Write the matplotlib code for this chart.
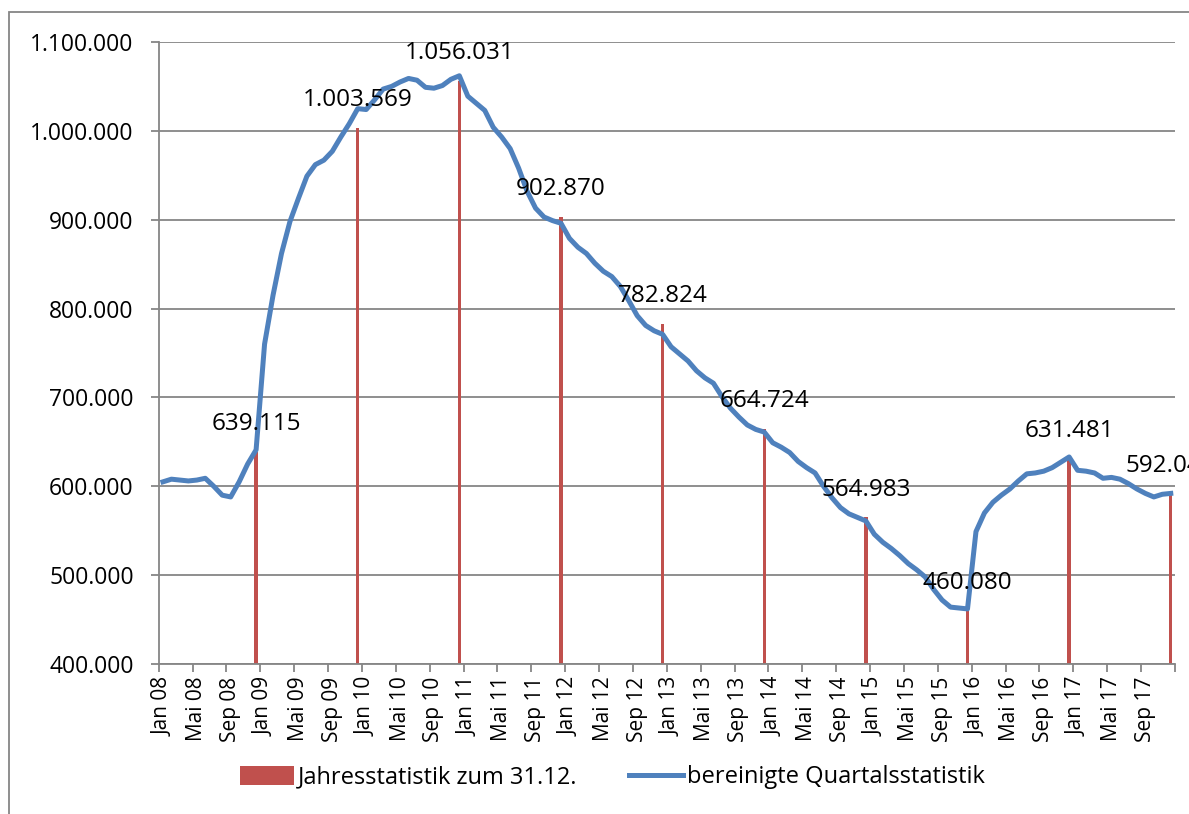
import numpy as np
import matplotlib
matplotlib.use("Agg")
import matplotlib.pyplot as plt
from matplotlib.ticker import FuncFormatter, FixedLocator
from matplotlib.patches import Rectangle

# monthly values Jan 08 .. Dec 17 (in thousands)
quartal = [605, 608, 607, 606, 607, 609, 600, 590, 588, 605, 625, 641,
           760, 815, 862, 898, 924, 949, 962, 967, 977, 993, 1008, 1025,
           1024, 1035, 1047, 1050, 1055, 1059, 1057, 1049, 1048, 1051, 1058, 1062,
           1039, 1031, 1023, 1004, 993, 980, 958, 932, 913, 903, 899, 896,
           879, 869, 862, 851, 842, 836, 825, 809, 792, 781, 775, 771,
           757, 749, 741, 730, 722, 716, 701, 688, 678, 669, 664, 661,
           649, 644, 638, 628, 621, 615, 600, 587, 576, 569, 565, 561,
           546, 537, 530, 522, 513, 506, 498, 484, 472, 464, 463, 462,
           549, 570, 582, 590, 597, 606, 614, 615, 617, 621, 627, 633,
           618, 617, 615, 609, 610, 608, 603, 597, 592, 588, 591, 592]
quartal = np.array(quartal) * 1000

jahre = list(range(2008, 2018))
jahres = [639115, 1003569, 1056031, 902870, 782824, 664724, 564983, 460080, 631481, 592043]
monate = ["Jan", "Mai", "Sep"]

labels = []
for j in jahre:
    for m in monate:
        labels.append(f"{m} {j % 100:02d}")

red = "#C0504D"
blue = "#4F81BD"
grey = "#868686"

plt.rcParams['font.family'] = ['Open Sans', 'DejaVu Sans']

fig = plt.figure(figsize=(11.89, 8.14), dpi=100)
ax = fig.add_axes([158.7 / 1189, 1 - 664 / 814, (1175 - 158.7) / 1189, (664 - 42) / 814])

x = np.arange(len(quartal))
dez = np.arange(11, len(quartal), 12)

bars = ax.bar(dez, jahres, width=0.4, color=red, zorder=2, label="Jahresstatistik zum 31.12.")
line, = ax.plot(x, quartal, color=blue, lw=3.6, zorder=3, solid_joinstyle="round",
                label="bereinigte Quartalsstatistik")

def de(v):
    return f"{v:,.0f}".replace(",", ".")

for xi, v in zip(dez, jahres):
    ax.annotate(de(v), (xi, v), xytext=(0, 20), textcoords="offset points",
                ha="center", va="center", fontsize=17.5, annotation_clip=False, zorder=4)

ax.set_xlim(-0.5, len(quartal) - 0.5)
ax.set_ylim(400000, 1100000)
ax.set_yticks(np.arange(400000, 1100001, 100000))
ax.yaxis.set_major_formatter(FuncFormatter(lambda v, p: de(v)))
ax.grid(axis="y", color=grey, lw=1.3, zorder=1)

ax.xaxis.set_major_locator(FixedLocator(np.arange(-0.5, len(quartal), 4)))
ax.xaxis.set_minor_locator(FixedLocator(np.arange(0, len(quartal), 4)))
ax.set_xticklabels([], minor=False)
ax.set_xticklabels(labels, minor=True, rotation=90, fontsize=15)
ax.tick_params(axis="x", which="major", length=6, color=grey, width=1.3, direction="out")
ax.tick_params(axis="x", which="minor", length=0, pad=9)
ax.tick_params(axis="y", length=6, color=grey, width=1.3, pad=12, labelsize=16.5)

for s in ["top", "right"]:
    ax.spines[s].set_visible(False)
for s in ["left", "bottom"]:
    ax.spines[s].set_color(grey)
    ax.spines[s].set_linewidth(1.3)

fig.add_artist(Rectangle((9 / 1189, -0.2), 2, 1.2 - 12 / 814, fill=False,
                         edgecolor=grey, lw=1.3, transform=fig.transFigure))

fig.legend(handles=[bars, line], loc="center", bbox_to_anchor=(0.515, 0.045), ncol=2,
           frameon=False, handlelength=2.3, handleheight=0.85, handletextpad=0.15,
           columnspacing=2.2, prop={"size": 17})

fig.savefig("out.png", dpi=100)
